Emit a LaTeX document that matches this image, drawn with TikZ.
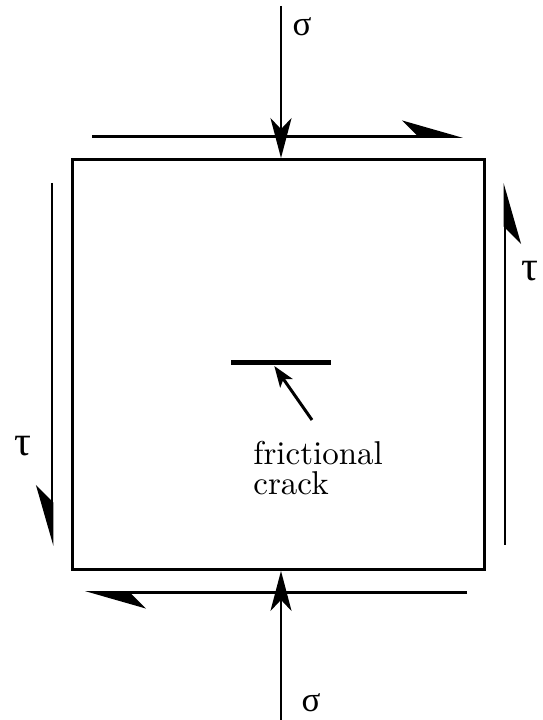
\documentclass[tikz,border=0pt]{standalone}
\usepackage{fontspec}
\newfontfamily\greekfont{Liberation Serif}
\newfontfamily\notefont{lmroman10-regular}[Extension=.otf]
\usetikzlibrary{arrows.meta}

\begin{document}
\begin{tikzpicture}[
    x=1pt, y=1pt,
    line width=2.8pt,
    normal/.style  = {-{Stealth[length=40pt, width=21pt, inset=11pt]}},
    shear/.style   = {-{Stealth[length=56pt, width=32pt, inset=16pt, harpoon]}},
    shearsw/.style = {-{Stealth[length=56pt, width=32pt, inset=16pt, harpoon, swap]}},
    pointer/.style = {line width=3pt, -{Stealth[length=21pt, width=15pt, inset=5pt]}},
    sym/.style     = {font=\greekfont\fontsize{35}{35}\selectfont, inner sep=0pt},
    tausym/.style  = {font=\greekfont\fontsize{42}{42}\selectfont, inner sep=0pt},
    note/.style    = {font=\notefont\fontsize{33}{30}\selectfont, align=left, inner sep=0pt},
]
\useasboundingbox (0,0) rectangle (542,720);

%% -- block under load -------------------------------------------------------
\node[draw, inner sep=0pt, minimum width=412pt, minimum height=410pt]
    (block) at (278.5,355.5) {};

%% -- normal stress sigma ----------------------------------------------------
\coordinate (sigtop) at (281,714);
\coordinate (sigbot) at (281,0);
\draw[normal] (sigtop) -- (sigtop |- block.north);
\draw[normal] (sigbot) -- (sigbot |- block.south);
\node[sym] (sigmaT) at (302,693) {σ};
\node[sym] (sigmaB) at (311,17)  {σ};

%% -- shear stress tau -------------------------------------------------------
\coordinate (topL) at (92,583.5);
\coordinate (topR) at (463,583.5);
\coordinate (botR) at (467,127.5);
\coordinate (botL) at (85,127.5);
\coordinate (rgtB) at (505,175);
\coordinate (rgtT) at (505,537);
\coordinate (lftT) at (52,537);
\coordinate (lftB) at (52,174);
\draw[shear]   (topL) -- (topR);
\draw[shear]   (botR) -- (botL);
\draw[shearsw] (rgtB) -- (rgtT);
\draw[shearsw] (lftT) -- (lftB);
\node[tausym] (tauR) at (530,449) {τ};
\node[tausym] (tauL) at (23,274)  {τ};

%% -- frictional crack -------------------------------------------------------
\coordinate (crackL) at (231,357);
\coordinate (crackR) at (331,357);
\draw[line width=5pt] (crackL) -- (crackR);
\node[note, anchor=north west] (crack) at (252,280) {frictional\\crack};
\coordinate (tail) at (312,300);
\draw[pointer] (tail) -- (274.3,354);

\end{tikzpicture}
\end{document}
